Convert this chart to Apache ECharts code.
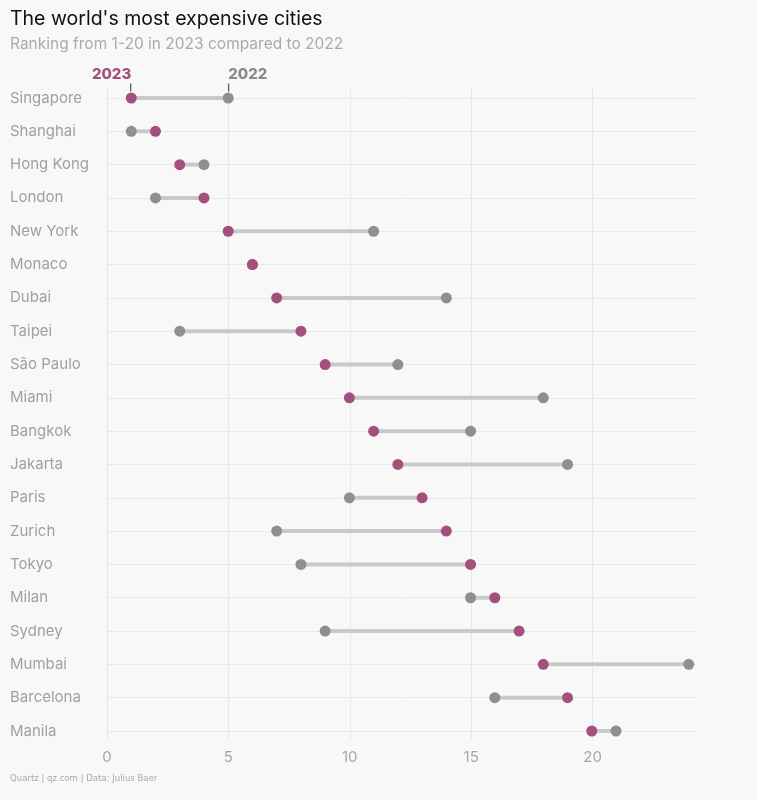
<!DOCTYPE html>
<html>
<head>
<meta charset="utf-8">
<script src="https://cdn.jsdelivr.net/npm/echarts@6/dist/echarts.min.js"></script>
<style>
html,body{margin:0;padding:0;background:#f8f8f8;}
#chart{width:757px;height:800px;}
</style>
</head>
<body>
<div id="chart"></div>
<script>
const cities = ["Singapore","Shanghai","Hong Kong","London","New York","Monaco","Dubai","Taipei","São Paulo","Miami","Bangkok","Jakarta","Paris","Zurich","Tokyo","Milan","Sydney","Mumbai","Barcelona","Manila"];
const rank2023 = [1,2,3,4,5,6,7,8,9,10,11,12,13,14,15,16,17,18,19,20];
const rank2022 = [5,1,4,2,11,6,14,3,12,18,15,19,10,7,8,15,9,24,16,21];
const xTicks = [0,5,10,15,20];

const C23 = '#a4507d';
const C22 = '#8f8f8f';
const FONT = 'Inter, "Noto Sans", sans-serif';

const chart = echarts.init(document.getElementById('chart'));

function headLabel(text, color, side) {
  return {
    show:true, position:'top', align:side, distance:1,
    formatter:'{t|' + text + '}\n{l|}',
    rich:{
      t:{fontSize:15, fontWeight:800, color:color, fontFamily:FONT, lineHeight:19, align:side},
      l:{width:1, height:8, backgroundColor:'#333', align:side}
    }
  };
}

const d22 = rank2022.map((v,i)=>{
  const item = {value:[v, cities[i]]};
  if (i === 0) item.label = headLabel('2022', '#8a8a8a', 'left');
  return item;
});
const d23 = rank2023.map((v,i)=>{
  const item = {value:[v, cities[i]]};
  if (i === 0) item.label = headLabel('2023', C23, 'right');
  return item;
});

chart.setOption({
  backgroundColor:'#f8f8f8',
  animation:false,
  textStyle:{fontFamily:FONT},
  title:[
    {text:"The world's most expensive cities", left:10, top:9, padding:0,
     textStyle:{fontSize:19.5, fontWeight:'normal', color:'#111', fontFamily:FONT}},
    {text:"Ranking from 1-20 in 2023 compared to 2022", left:10, top:36, padding:0,
     textStyle:{fontSize:15.5, fontWeight:'normal', color:'#aaaaaa', fontFamily:FONT}},
    {text:"Quartz | qz.com | Data: Julius Baer", left:10, top:774, padding:0,
     textStyle:{fontSize:9.5, fontWeight:'normal', color:'#a8a8a8', fontFamily:'"Liberation Sans Narrow", "DejaVu Sans Condensed", sans-serif'}}
  ],
  grid:[
    {left:107, right:61, top:98, bottom:69},
    {left:107, right:164.4, top:87, bottom:60}
  ],
  xAxis:[
    {gridIndex:0, type:'value', min:0, max:24.3, interval:5,
     axisLine:{show:false}, axisTick:{show:false}, axisLabel:{show:false}, splitLine:{show:false}},
    {gridIndex:1, type:'value', min:0, max:20, interval:5,
     axisLine:{show:false}, axisTick:{show:false},
     axisLabel:{fontSize:15, color:'#a6a6a6', margin:10, fontFamily:FONT,
       formatter:(v)=> xTicks.includes(v) ? String(v) : ''},
     splitLine:{show:true, lineStyle:{color:'#e8e8e8', width:1}}}
  ],
  yAxis:[
    {gridIndex:0, type:'category', data:cities, inverse:true, boundaryGap:false,
     axisLine:{show:false}, axisTick:{show:false},
     axisLabel:{fontSize:15, color:'#a0a0a0', align:'left', margin:97, fontFamily:FONT},
     splitLine:{show:true, lineStyle:{color:'#e8e8e8', width:1}}},
    {gridIndex:1, type:'value', show:false, min:0, max:1, splitLine:{show:false}}
  ],
  series:[
    {type:'custom', xAxisIndex:0, yAxisIndex:0, z:2,
     data:cities.map((c,i)=>[rank2023[i], rank2022[i], c]),
     encode:{x:[0,1], y:2},
     renderItem:(params, api)=>{
       const p1 = api.coord([api.value(0), params.dataIndex]);
       const p2 = api.coord([api.value(1), params.dataIndex]);
       return {type:'line', shape:{x1:p1[0], y1:p1[1], x2:p2[0], y2:p2[1]},
               style:{stroke:'#c9c9c9', lineWidth:4}};
     }},
    {type:'scatter', name:'2022', xAxisIndex:0, yAxisIndex:0, z:3,
     symbolSize:11, itemStyle:{color:C22, opacity:1}, data:d22},
    {type:'scatter', name:'2023', xAxisIndex:0, yAxisIndex:0, z:4,
     symbolSize:11, itemStyle:{color:C23, opacity:1}, data:d23}
  ]
});
</script>
</body>
</html>
